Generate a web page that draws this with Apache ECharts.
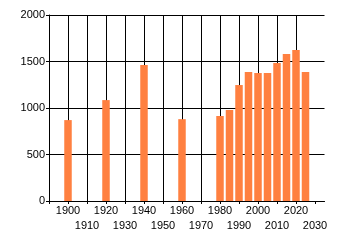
<!DOCTYPE html>
<html><head><meta charset="utf-8">
<script src="https://cdn.jsdelivr.net/npm/echarts@6/dist/echarts.min.js"></script>
<style>html,body{margin:0;padding:0;background:#fff}#c{width:340px;height:245px}</style>
</head><body><div id="c"></div>
<script>
const years = [1900, 1920, 1940, 1960, 1980, 1985, 1990, 1995, 2000, 2005, 2010, 2015, 2020, 2025];
const values = [870, 1085, 1462, 880, 914, 978, 1247, 1387, 1376, 1376, 1484, 1581, 1624, 1387];
const xTicks = [1890, 1900, 1910, 1920, 1930, 1940, 1950, 1960, 1970, 1980, 1990, 2000, 2010, 2020, 2030];
const xLabelsRow1 = [1900, 1920, 1940, 1960, 1980, 2000, 2020];
const xLabelsRow2 = [1910, 1930, 1950, 1970, 1990, 2010, 2030];
const yTicks = [0, 500, 1000, 1500, 2000];

const font = {fontFamily: 'Liberation Sans, Arial, sans-serif', fontSize: 11, color: '#000'};
const chart = echarts.init(document.getElementById('c'), null, {renderer: 'canvas'});
chart.setOption({
  animation: false,
  grid: {left: 49, right: 15.5, top: 15, bottom: 44, containLabel: false},
  xAxis: [{
    type: 'value', min: 1890, max: 2035, interval: 10, position: 'bottom',
    axisLine: {show: true, lineStyle: {color: '#000', width: 1}},
    axisTick: {show: true, length: 3, lineStyle: {color: '#000'}, customValues: xTicks},
    axisLabel: Object.assign({}, font, {
      margin: 4, showMinLabel: true, showMaxLabel: true, hideOverlap: false,
      customValues: xLabelsRow1, formatter: v => String(v)
    }),
    splitLine: {show: true, showMaxLine: false, lineStyle: {color: '#000', width: 1}}
  }, {
    type: 'value', min: 1890, max: 2035, interval: 10, position: 'bottom', offset: 0,
    axisLine: {show: false}, axisTick: {show: false}, splitLine: {show: false},
    axisLabel: Object.assign({}, font, {
      margin: 19, showMinLabel: true, showMaxLabel: true, hideOverlap: false,
      customValues: xLabelsRow2, formatter: v => String(v)
    })
  }],
  yAxis: {
    type: 'value', min: 0, max: 2000, interval: 500,
    axisLine: {show: true, lineStyle: {color: '#000', width: 1}},
    axisTick: {show: true, length: 3, lineStyle: {color: '#000'}},
    axisLabel: Object.assign({}, font, {margin: 4, customValues: yTicks, formatter: v => String(v)}),
    splitLine: {show: true, lineStyle: {color: '#000', width: 1}}
  },
  series: [{
    type: 'bar', xAxisIndex: 0,
    data: years.map((y, i) => [y, values[i]]),
    barWidth: 7.5,
    itemStyle: {color: '#FF8040'}
  }]
});
</script></body></html>
